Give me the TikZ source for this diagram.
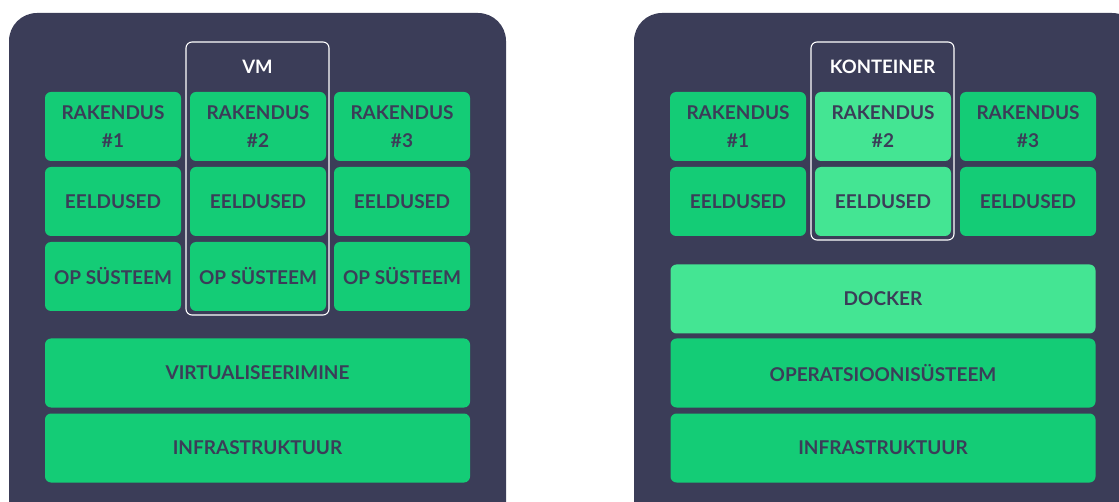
\documentclass[tikz,border=0pt]{standalone}
\usepackage{fontspec}
\setmainfont{Lato}
\definecolor{panel}{HTML}{3B3D58}
\definecolor{green}{HTML}{14CC76}
\definecolor{lightgreen}{HTML}{44E593}
\tikzset{
    box/.style={fill=green, rounded corners=6pt, minimum width=136pt, minimum height=69pt,
        inner sep=0pt, align=center, text=panel, font=\bfseries\fontsize{19}{28}\selectfont},
    widebox/.style={box, minimum width=425pt},
    lightbox/.style={fill=lightgreen},
    frame/.style={draw=white, line width=1.1pt, rounded corners=6pt},
    title/.style={text=white, font=\bfseries\fontsize{18.5}{22}\selectfont}
}
\begin{document}
\begin{tikzpicture}[x=1pt, y=-1pt]
    \clip (0, 0) rectangle (1119, 502);
    % paneelid
    \fill [panel, rounded corners=28pt] (9, 13) rectangle (506, 530);
    \fill [panel, rounded corners=28pt] (634, 13) rectangle (1140, 530);

    % VM
    \draw [frame] (186, 42) rectangle (329, 315);
    \node [title] (vm) at (257.5, 67) {VM};
    \node [box] (vmapp1) at (113, 126.5) {RAKENDUS\\\#1};
    \node [box] (vmapp2) at (258, 126.5) {RAKENDUS\\\#2};
    \node [box] (vmapp3) at (402, 126.5) {RAKENDUS\\\#3};
    \node [box] (vmdep1) at (113, 201.5) {EELDUSED};
    \node [box] (vmdep2) at (258, 201.5) {EELDUSED};
    \node [box] (vmdep3) at (402, 201.5) {EELDUSED};
    \node [box] (vmos1) at (113, 276.5) {OP SÜSTEEM};
    \node [box] (vmos2) at (258, 276.5) {OP SÜSTEEM};
    \node [box] (vmos3) at (402, 276.5) {OP SÜSTEEM};
    \node [widebox] (virt) at (257.5, 373) {VIRTUALISEERIMINE};
    \node [widebox] (vminfra) at (257.5, 448) {INFRASTRUKTUUR};

    % konteiner
    \draw [frame] (811, 42) rectangle (954, 240);
    \node [title] (kont) at (882.5, 67) {KONTEINER};
    \node [box] (kapp1) at (738, 126.5) {RAKENDUS\\\#1};
    \node [box, lightbox] (kapp2) at (883, 126.5) {RAKENDUS\\\#2};
    \node [box] (kapp3) at (1028, 126.5) {RAKENDUS\\\#3};
    \node [box] (kdep1) at (738, 201.5) {EELDUSED};
    \node [box, lightbox] (kdep2) at (883, 201.5) {EELDUSED};
    \node [box] (kdep3) at (1028, 201.5) {EELDUSED};
    \node [widebox, lightbox] (docker) at (883, 299) {DOCKER};
    \node [widebox] (os) at (883, 373) {OPERATSIOONISÜSTEEM};
    \node [widebox] (kinfra) at (883, 448) {INFRASTRUKTUUR};
\end{tikzpicture}
\end{document}
